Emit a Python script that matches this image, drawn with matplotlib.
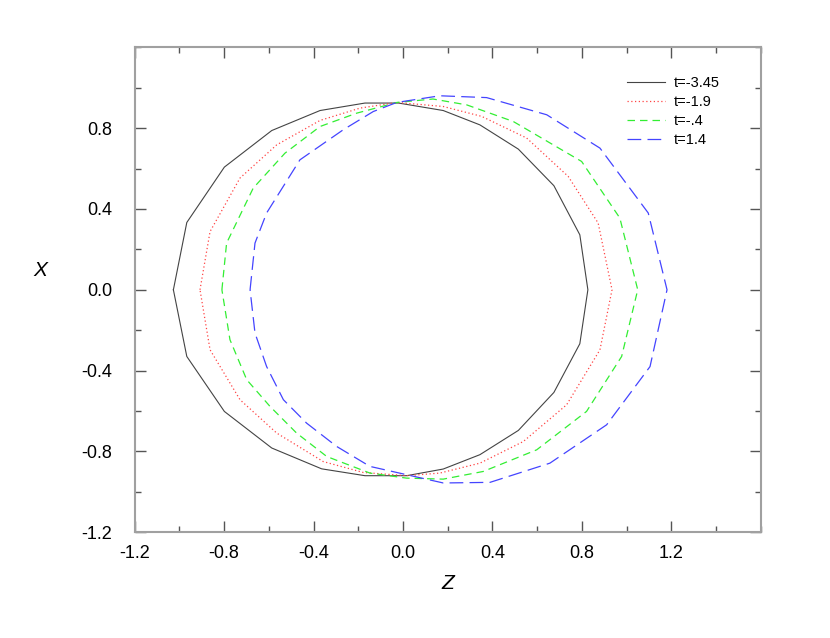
import numpy as np
import matplotlib.pyplot as plt
from matplotlib.ticker import MultipleLocator

plt.rcParams['font.family'] = ['Liberation Sans', 'DejaVu Sans']

# contour points (z, x), going round each curve
z_345 = [-1.027, -0.967, -0.799, -0.587, -0.371, -0.170, -0.020, 0.180, 0.344, 0.516, 0.675, 0.791, 0.827,
         0.791, 0.675, 0.516, 0.344, 0.180, 0.016, -0.170, -0.364, -0.587, -0.799, -0.967, -1.027]
x_345 = [0.000, 0.333, 0.607, 0.788, 0.887, 0.924, 0.924, 0.887, 0.816, 0.696, 0.515, 0.272, 0.000,
         -0.267, -0.508, -0.696, -0.816, -0.887, -0.920, -0.920, -0.886, -0.783, -0.602, -0.330, 0.000]

z_19 = [-0.908, -0.863, -0.729, -0.565, -0.371, -0.192, -0.027, 0.180, 0.352, 0.553, 0.739, 0.873, 0.935,
        0.881, 0.732, 0.538, 0.344, 0.165, 0.016, -0.178, -0.357, -0.565, -0.729, -0.863, -0.908]
x_19 = [0.000, 0.288, 0.553, 0.717, 0.838, 0.899, 0.927, 0.907, 0.858, 0.751, 0.561, 0.330, 0.000,
        -0.297, -0.569, -0.751, -0.858, -0.907, -0.920, -0.904, -0.850, -0.709, -0.544, -0.297, 0.000]

z_04 = [-0.810, -0.789, -0.670, -0.528, -0.371, -0.207, -0.027, 0.134, 0.285, 0.493, 0.799, 0.970, 1.050,
        0.978, 0.821, 0.598, 0.359, 0.180, 0.016, -0.148, -0.341, -0.476, -0.595, -0.699, -0.774, -0.810]
x_04 = [0.000, 0.231, 0.503, 0.676, 0.808, 0.874, 0.927, 0.944, 0.915, 0.833, 0.635, 0.355, 0.000,
        -0.330, -0.602, -0.792, -0.899, -0.937, -0.932, -0.907, -0.825, -0.709, -0.577, -0.445, -0.247, 0.000]

z_14 = [-0.684, -0.662, -0.610, -0.461, -0.267, -0.133, -0.028, 0.165, 0.374, 0.643, 0.881, 1.097, 1.181,
        1.105, 0.911, 0.657, 0.389, 0.180, 0.016, -0.148, -0.297, -0.431, -0.535, -0.610, -0.662, -0.684]
x_14 = [0.000, 0.231, 0.380, 0.643, 0.792, 0.882, 0.927, 0.960, 0.951, 0.866, 0.701, 0.380, 0.000,
        -0.380, -0.668, -0.858, -0.953, -0.956, -0.915, -0.874, -0.775, -0.660, -0.544, -0.380, -0.214, 0.000]

fig = plt.figure(figsize=(8.3, 6.38), dpi=100)
ax = fig.add_axes([0.1623, 0.1657, 0.7542, 0.7602])

ax.plot(z_345, x_345, color='#444444', lw=0.8, label='t=-3.45')
ax.plot(z_19, x_19, color='#ff4444', lw=0.9, ls=(0, (1, 2)), label='t=-1.9')
ax.plot(z_04, x_04, color='#33ee33', lw=0.9, ls=(0, (6, 4)), label='t=-.4')
ax.plot(z_14, x_14, color='#4444ff', lw=0.9, ls=(0, (11, 5)), label='t=1.4')

ax.set_xlim(-1.2, 1.6)
ax.set_ylim(-1.2, 1.2)
ax.set_xticks([-1.2, -0.8, -0.4, 0.0, 0.4, 0.8, 1.2])
ax.set_yticks([-1.2, -0.8, -0.4, 0.0, 0.4, 0.8])
ax.xaxis.set_minor_locator(MultipleLocator(0.2))
ax.yaxis.set_minor_locator(MultipleLocator(0.2))
ax.xaxis.set_major_formatter(plt.FormatStrFormatter('%.1f'))
ax.yaxis.set_major_formatter(plt.FormatStrFormatter('%.1f'))

ax.tick_params(which='both', direction='in', top=True, right=True, color='#555555', width=1)
ax.tick_params(which='major', length=8, labelsize=13)
ax.tick_params(which='minor', length=4)
ax.tick_params(axis='x', which='major', pad=9)
ax.tick_params(axis='y', which='major', pad=16)
for sp in ax.spines.values():
    sp.set_color('#a0a0a0')
    sp.set_linewidth(1.5)

ax.set_xlabel('Z', fontsize=15, style='italic')
ax.set_ylabel('X', fontsize=15, style='italic', rotation=0)
ax.xaxis.set_label_coords(0.5, -0.085)
ax.yaxis.set_label_coords(-0.15, 0.52)

ax.legend(loc='upper right', frameon=False, fontsize=10.5, handlelength=2.6,
          handletextpad=0.6, labelspacing=0.33, bbox_to_anchor=(0.955, 0.967))

fig.savefig('out.png', dpi=100)
